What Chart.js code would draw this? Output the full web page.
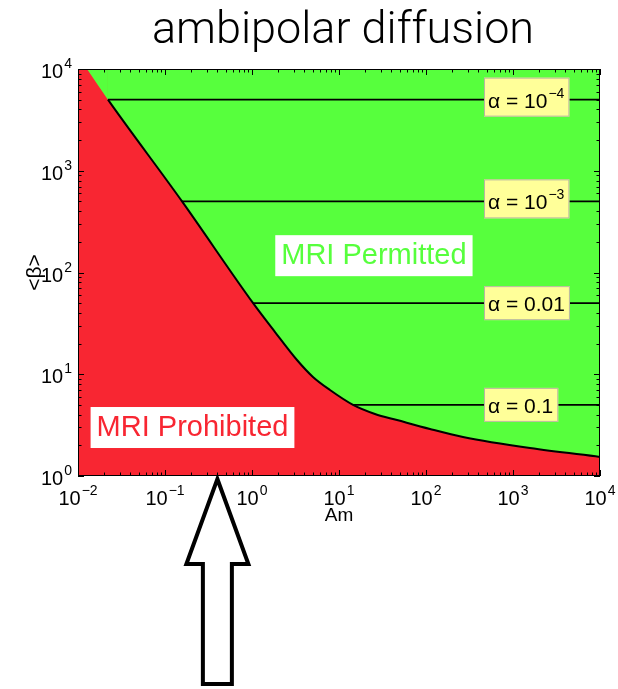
<!DOCTYPE html>
<html>
<head>
<meta charset="utf-8">
<script src="https://cdn.jsdelivr.net/npm/chart.js@4/dist/chart.umd.min.js"></script>
<style>
  html, body { margin: 0; padding: 0; background: #ffffff; }
  canvas { display: block; }
</style>
</head>
<body>
<canvas id="c" width="618" height="689"></canvas>
<script>
// Marginal-stability boundary: Am (x) against <beta> (y)
const amBoundary   = [0.0127, 0.0221, 0.157, 1.03, 1.84, 3.29, 5.02, 7.88, 14.5, 25.9, 46.4, 111, 266, 1567, 10000];
const betaBoundary = [10000, 5000, 500, 50, 26.0, 13.8, 9.40, 7.00, 5.0, 4.07, 3.55, 2.90, 2.42, 1.88, 1.54];

// Constant-alpha lines: beta level, Am where each line meets the boundary
const alphaBeta    = [5000, 500, 50, 5];
const alphaStartAm = [0.0221, 0.157, 1.03, 14.5];
const alphaLabelBase = ['α = 10', 'α = 10', 'α = 0.01', 'α = 0.1'];
const alphaLabelExp  = ['−4', '−3', '', ''];

// Axis ticks
const xTickValues = [1e-2, 1e-1, 1e0, 1e1, 1e2, 1e3, 1e4];
const xTickExp    = ['−2', '−1', '0', '1', '2', '3', '4'];
const yTickValues = [1e0, 1e1, 1e2, 1e3, 1e4];
const yTickExp    = ['0', '1', '2', '3', '4'];

// Am marked by the arrow under the axis
const arrowAm = 0.4;

const RED = '#F82632';
const GREEN = '#57FF3D';
const FONT = '"Liberation Sans", Arial, Helvetica, sans-serif';

const boundaryPoints = amBoundary.map((a, i) => ({ x: a, y: betaBoundary[i] }));

const alphaDatasets = alphaBeta.map((b, i) => ({
  label: 'alpha ' + i,
  data: [{ x: alphaStartAm[i], y: b }, { x: 1e4, y: b }],
  showLine: true,
  borderColor: '#000000',
  borderWidth: 1.6,
  pointRadius: 0,
  fill: false,
  order: 1
}));

function drawPower(ctx, base, exp, x, y, align, baseSize, expSize, expRise, color) {
  ctx.save();
  ctx.fillStyle = color || '#000';
  ctx.textBaseline = 'alphabetic';
  ctx.textAlign = 'left';
  ctx.font = baseSize + 'px ' + FONT;
  const wb = ctx.measureText(base).width;
  ctx.font = expSize + 'px ' + FONT;
  const we = exp ? ctx.measureText(exp).width + 1 : 0;
  const total = wb + we;
  let x0 = x;
  if (align === 'center') x0 = x - total / 2;
  else if (align === 'right') x0 = x - total;
  ctx.font = baseSize + 'px ' + FONT;
  ctx.fillText(base, x0, y);
  if (exp) {
    ctx.font = expSize + 'px ' + FONT;
    ctx.fillText(exp, x0 + wb + 1, y - expRise);
  }
  ctx.restore();
  return total;
}

const decorPlugin = {
  id: 'decor',
  beforeDraw(chart) {
    const { ctx, chartArea: a } = chart;
    ctx.save();
    ctx.fillStyle = RED;
    ctx.fillRect(a.left, a.top, a.right - a.left, a.bottom - a.top);
    ctx.restore();
  },
  afterDraw(chart) {
    const { ctx, chartArea: a } = chart;
    const xs = chart.scales.x, ys = chart.scales.y;

    // frame
    ctx.save();
    ctx.strokeStyle = '#000';
    ctx.lineWidth = 1;
    ctx.strokeRect(a.left + 0.5, a.top + 0.5, a.right - a.left - 1, a.bottom - a.top - 1);

    // inward major and minor ticks on all four sides
    ctx.beginPath();
    for (let d = -2; d <= 4; d++) {
      for (let m = 1; m <= 9; m++) {
        const v = m * Math.pow(10, d);
        if (v > 1e4 * 1.0001) break;
        const px = Math.round(xs.getPixelForValue(v)) + 0.5;
        const len = m === 1 ? 6 : 3.5;
        ctx.moveTo(px, a.bottom); ctx.lineTo(px, a.bottom - len);
        ctx.moveTo(px, a.top); ctx.lineTo(px, a.top + len);
      }
    }
    for (let d = 0; d <= 4; d++) {
      for (let m = 1; m <= 9; m++) {
        const v = m * Math.pow(10, d);
        if (v > 1e4 * 1.0001) break;
        const py = Math.round(ys.getPixelForValue(v)) + 0.5;
        const len = m === 1 ? 6 : 3.5;
        ctx.moveTo(a.left, py); ctx.lineTo(a.left + len, py);
        ctx.moveTo(a.right, py); ctx.lineTo(a.right - len, py);
      }
    }
    ctx.stroke();
    ctx.restore();

    // tick labels
    xTickValues.forEach((v, i) => {
      drawPower(ctx, '10', xTickExp[i], xs.getPixelForValue(v), a.bottom + 29, 'center', 20, 14, 10);
    });
    yTickValues.forEach((v, i) => {
      drawPower(ctx, '10', yTickExp[i], a.left - 6, ys.getPixelForValue(v) + 9, 'right', 20, 14, 10);
    });

    // axis titles
    ctx.save();
    ctx.fillStyle = '#000';
    ctx.font = '19px ' + FONT;
    ctx.textAlign = 'center';
    ctx.textBaseline = 'middle';
    ctx.fillText('Am', (a.left + a.right) / 2, a.bottom + 40);
    ctx.translate(35, (a.top + a.bottom) / 2);
    ctx.rotate(-Math.PI / 2);
    ctx.font = '21px ' + FONT;
    ctx.fillText('<β>', 0, 0);
    ctx.restore();

    // chart title
    ctx.save();
    ctx.fillStyle = '#000';
    ctx.font = '300 45px Roboto, ' + FONT;
    ctx.textAlign = 'center';
    ctx.textBaseline = 'alphabetic';
    ctx.fillText('ambipolar diffusion', 343, 43);
    ctx.restore();

    // region labels on white boxes
    const regionLabel = (text, cx, cy, color) => {
      ctx.save();
      ctx.font = '29px ' + FONT;
      const w = ctx.measureText(text).width;
      ctx.fillStyle = '#ffffff';
      ctx.fillRect(cx - w / 2 - 6, cy - 20, w + 12, 41);
      ctx.fillStyle = color;
      ctx.textAlign = 'center';
      ctx.textBaseline = 'middle';
      ctx.fillText(text, cx, cy + 1);
      ctx.restore();
    };
    regionLabel('MRI Permitted', xs.getPixelForValue(25.2), ys.getPixelForValue(148), GREEN);
    regionLabel('MRI Prohibited', xs.getPixelForValue(0.207), ys.getPixelForValue(3.03), RED);

    // alpha labels on yellow boxes
    alphaBeta.forEach((b, i) => {
      const y = ys.getPixelForValue(b);
      const left = xs.getPixelForValue(464);
      ctx.save();
      ctx.font = '21px ' + FONT;
      const wb = ctx.measureText(alphaLabelBase[i]).width;
      ctx.font = '14px ' + FONT;
      const we = alphaLabelExp[i] ? ctx.measureText(alphaLabelExp[i]).width + 1 : 0;
      const w = wb + we + 9;
      const top = alphaLabelExp[i] ? y - 22 : y - 17;
      const bottom = y + 17;
      ctx.fillStyle = '#FFFF99';
      ctx.fillRect(left, top, w, bottom - top);
      ctx.strokeStyle = '#B8B8A0';
      ctx.lineWidth = 1;
      ctx.strokeRect(left + 0.5, top + 0.5, w - 1, bottom - top - 1);
      ctx.restore();
      drawPower(ctx, alphaLabelBase[i], alphaLabelExp[i], left + 4, y + 8, 'left', 21, 14, 10);
    });

    // arrow pointing up at the marked Am
    const tx = xs.getPixelForValue(arrowAm);
    const tipY = a.bottom + 3;
    ctx.save();
    ctx.beginPath();
    ctx.moveTo(tx, tipY);
    ctx.lineTo(tx + 31, tipY + 85);
    ctx.lineTo(tx + 14.5, tipY + 85);
    ctx.lineTo(tx + 14.5, tipY + 205);
    ctx.lineTo(tx - 14.5, tipY + 205);
    ctx.lineTo(tx - 14.5, tipY + 85);
    ctx.lineTo(tx - 31, tipY + 85);
    ctx.closePath();
    ctx.fillStyle = '#ffffff';
    ctx.fill();
    ctx.lineWidth = 4;
    ctx.lineJoin = 'miter';
    ctx.strokeStyle = '#000';
    ctx.stroke();
    ctx.restore();
  }
};

new Chart(document.getElementById('c'), {
  type: 'scatter',
  data: {
    datasets: [
      {
        label: 'boundary',
        data: boundaryPoints,
        showLine: true,
        fill: 'end',
        backgroundColor: GREEN,
        borderColor: '#000000',
        borderWidth: 2,
        pointRadius: 0,
        cubicInterpolationMode: 'monotone',
        segment: {
          borderColor: c => (c.p0DataIndex < 1 ? 'rgba(0,0,0,0)' : '#000000')
        },
        order: 2
      },
      ...alphaDatasets
    ]
  },
  options: {
    responsive: false,
    animation: false,
    events: [],
    layout: { padding: { left: 78, right: 18, top: 69, bottom: 213 } },
    scales: {
      x: { type: 'logarithmic', min: 1e-2, max: 1e4, display: false },
      y: { type: 'logarithmic', min: 1, max: 1e4, display: false }
    },
    plugins: {
      legend: { display: false },
      tooltip: { enabled: false },
      title: { display: false }
    }
  },
  plugins: [decorPlugin]
});
</script>
</body>
</html>
